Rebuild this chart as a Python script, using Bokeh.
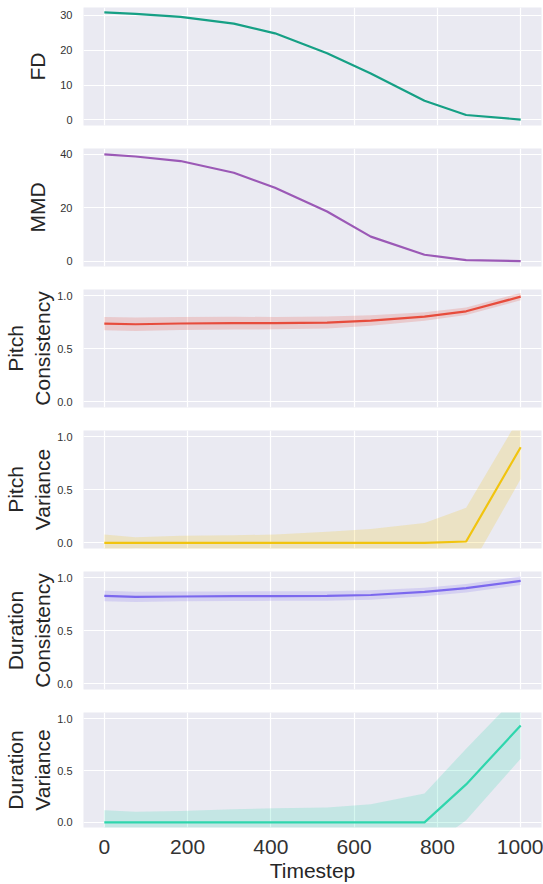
from bokeh.plotting import figure
from bokeh.layouts import column
from bokeh.models import FixedTicker, NumeralTickFormatter, Range1d
from bokeh.embed import file_html
from bokeh.resources import INLINE

# ---- data ----
timesteps = [0, 75, 183, 311, 410, 535, 640, 769, 869, 1000]

fd = [30.8, 30.4, 29.5, 27.6, 24.8, 19.1, 13.3, 5.5, 1.4, 0.1]
mmd = [40.0, 39.2, 37.5, 33.1, 27.5, 18.6, 9.2, 2.4, 0.4, 0.0]

pitch_consistency = [0.736, 0.730, 0.737, 0.740, 0.741, 0.746, 0.765, 0.802, 0.852, 0.990]
pitch_consistency_sd = [0.063, 0.064, 0.062, 0.060, 0.058, 0.056, 0.050, 0.040, 0.035, 0.035]

pitch_variance = [0.0, 0.0, 0.0, 0.0, 0.0, 0.0, 0.0, 0.0, 0.013, 0.90]
pitch_variance_sd = [0.078, 0.053, 0.066, 0.072, 0.078, 0.105, 0.13, 0.188, 0.317, 0.30]

duration_consistency = [0.827, 0.818, 0.822, 0.825, 0.826, 0.827, 0.836, 0.865, 0.900, 0.969]
duration_consistency_sd = [0.050, 0.048, 0.046, 0.045, 0.045, 0.045, 0.044, 0.040, 0.040, 0.040]

duration_variance = [0.0, 0.0, 0.0, 0.0, 0.0, 0.0, 0.0, 0.0, 0.366, 0.934]
duration_variance_sd = [0.116, 0.103, 0.11, 0.125, 0.135, 0.144, 0.175, 0.278, 0.345, 0.32]

x_ticks = [0, 200, 400, 600, 800, 1000]

panels = [
    dict(label="FD", y=fd, sd=None, color="#16a085", yr=(-1.6, 32.2), ticks=[0, 10, 20, 30], fmt="0"),
    dict(label="MMD", y=mmd, sd=None, color="#9b59b6", yr=(-2.0, 42.2), ticks=[0, 20, 40], fmt="0"),
    dict(label="Pitch\nConsistency", y=pitch_consistency, sd=pitch_consistency_sd, color="#e74c3c",
         yr=(-0.053, 1.057), ticks=[0, 0.5, 1.0], fmt="0.0"),
    dict(label="Pitch\nVariance", y=pitch_variance, sd=pitch_variance_sd, color="#f1c40f",
         yr=(-0.053, 1.057), ticks=[0, 0.5, 1.0], fmt="0.0"),
    dict(label="Duration\nConsistency", y=duration_consistency, sd=duration_consistency_sd, color="#7b68ee",
         yr=(-0.053, 1.057), ticks=[0, 0.5, 1.0], fmt="0.0"),
    dict(label="Duration\nVariance", y=duration_variance, sd=duration_variance_sd, color="#2fd6ad",
         yr=(-0.05, 1.06), ticks=[0, 0.5, 1.0], fmt="0.0"),
]

FONT = "Liberation Sans"
BG = "#EAEAF2"
TXT = "#262626"

figs = []
n = len(panels)
for i, pn in enumerate(panels):
    first = i == 0
    last = i == n - 1
    top = 7 if first else 0
    bottom = 54 if last else 23
    p = figure(
        width=543,
        height=top + 118 + bottom,
        x_range=Range1d(-50, 1050),
        y_range=Range1d(*pn["yr"]),
        output_backend="svg",
        toolbar_location=None,
        min_border_left=83,
        min_border_right=2,
        min_border_top=top,
        min_border_bottom=bottom,
    )
    p.background_fill_color = BG
    p.border_fill_color = "white"
    p.outline_line_color = None

    if pn["sd"] is not None:
        lo = [m - s for m, s in zip(pn["y"], pn["sd"])]
        hi = [m + s for m, s in zip(pn["y"], pn["sd"])]
        p.varea(x=timesteps, y1=lo, y2=hi, fill_color=pn["color"], fill_alpha=0.2)
    p.line(timesteps, pn["y"], line_color=pn["color"], line_width=2.2)

    yt = FixedTicker(ticks=pn["ticks"])
    xt = FixedTicker(ticks=x_ticks)
    p.yaxis.ticker = yt
    p.ygrid.ticker = yt
    p.xaxis.ticker = xt
    p.xgrid.ticker = xt
    p.yaxis.formatter = NumeralTickFormatter(format=pn["fmt"])
    p.grid.grid_line_color = "white"
    p.grid.grid_line_width = 1.2

    for ax in (p.xaxis, p.yaxis):
        ax.axis_line_color = None
        ax.major_tick_line_color = None
        ax.minor_tick_line_color = None
        ax.axis_label_text_font = FONT
        ax.axis_label_text_font_style = "normal"
        ax.axis_label_text_color = TXT
        ax.axis_label_text_font_size = "21px"
        ax.major_label_text_font = FONT
        ax.major_label_text_color = "#333333"

    p.yaxis.axis_label = pn["label"]
    p.yaxis.major_label_text_font_size = "11px"
    p.yaxis.major_label_standoff = 5
    p.yaxis.axis_label_standoff = 0 if "\n" in pn["label"] else 8

    if last:
        p.xaxis.axis_label = "Timestep"
        p.xaxis.major_label_text_font_size = "21px"
        p.xaxis.major_label_standoff = 6
        p.xaxis.axis_label_standoff = 2
    else:
        p.xaxis.visible = False
    figs.append(p)

layout = column(*figs, spacing=0)
open("out.html", "w").write(file_html(layout, INLINE))
